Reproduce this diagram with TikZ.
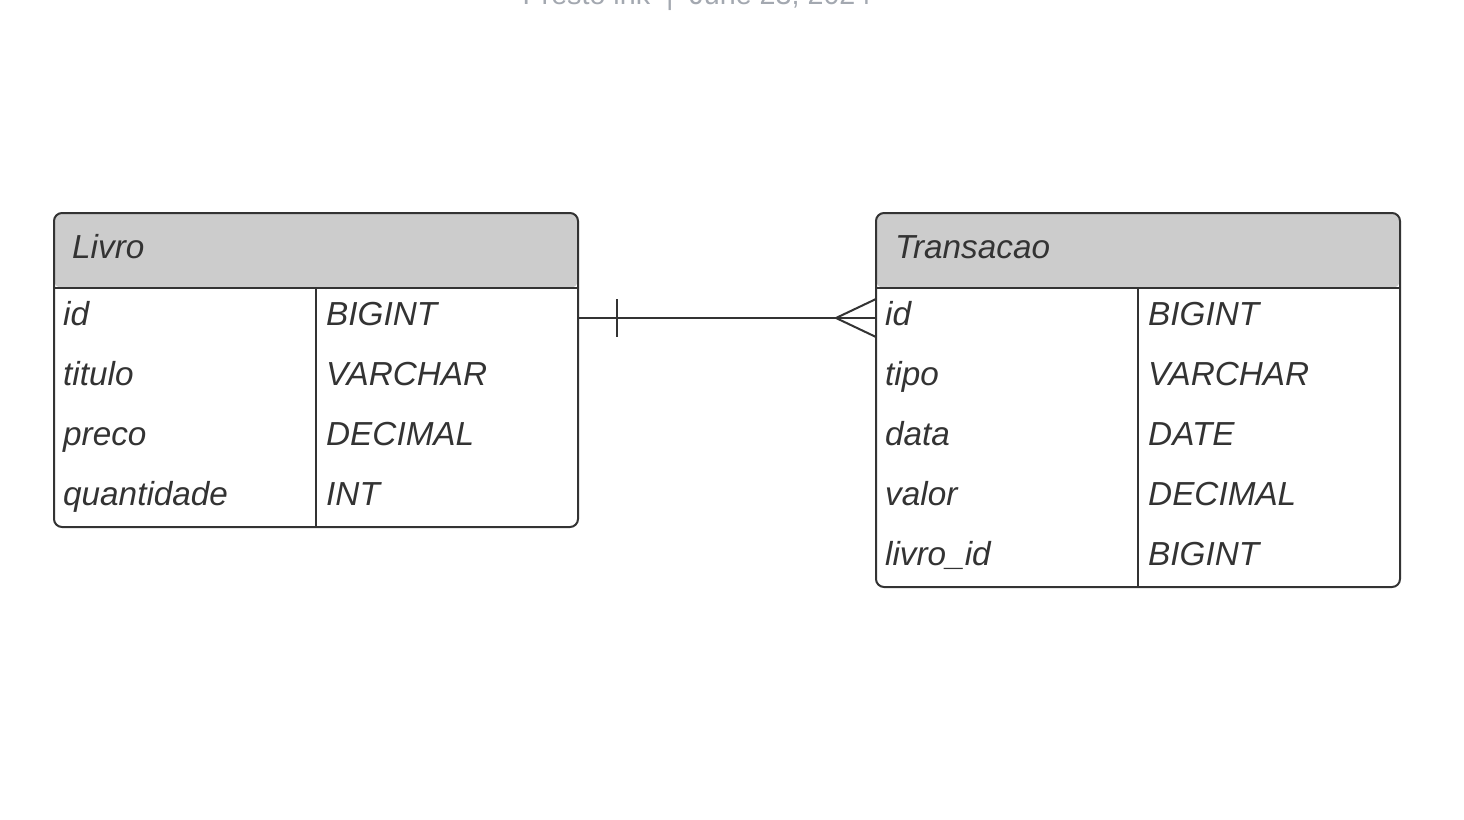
\documentclass[tikz,border=0pt]{standalone}
\usepackage{fontspec}
\setmainfont{Liberation Sans}
\definecolor{ln}{HTML}{333333}
\definecolor{hd}{HTML}{CCCCCC}
\definecolor{tx}{HTML}{333333}
\definecolor{gr}{HTML}{A3A8B0}
\begin{document}
\begin{tikzpicture}[x=1pt,y=-1pt,
  tbl/.style={draw=ln,line width=2pt,rounded corners=8pt},
  cell/.style={anchor=base west,inner sep=0pt,text=tx,font=\fontsize{33.3}{36}\selectfont\itshape},
  conn/.style={draw=ln,line width=2pt}]
\useasboundingbox (0,0) rectangle (1464,819);
\begin{scope}
\clip (0,0) rectangle (1464,819);
\node[anchor=base,text=gr,font=\fontsize{28.7}{30}\selectfont,inner sep=0pt] (stamp) at (697,5) {Presto ink \ | \ June 23, 2024};
\end{scope}
% Livro
\fill[hd,rounded corners=8pt] (54,288) -- (54,213) -- (578,213) -- (578,288) -- cycle;
\draw[tbl] (54,213) rectangle (578,527);
\draw[conn] (54,288) -- (578,288);
\draw[conn] (316,288) -- (316,527);
\node[cell] (lt) at (72,258) {Livro};
\node[cell] (l1) at (63,325) {id};
\node[cell] (l2) at (63,385) {titulo};
\node[cell] (l3) at (63,445) {preco};
\node[cell] (l4) at (63,505) {quantidade};
\node[cell] (l1t) at (326,325) {BIGINT};
\node[cell] (l2t) at (326,385) {VARCHAR};
\node[cell] (l3t) at (326,445) {DECIMAL};
\node[cell] (l4t) at (326,505) {INT};
% Transacao
\fill[hd,rounded corners=8pt] (876,288) -- (876,213) -- (1400,213) -- (1400,288) -- cycle;
\draw[tbl] (876,213) rectangle (1400,587);
\draw[conn] (876,288) -- (1400,288);
\draw[conn] (1138,288) -- (1138,587);
\node[cell] (tt) at (895,258) {Transacao};
\node[cell] (t1) at (885,325) {id};
\node[cell] (t2) at (885,385) {tipo};
\node[cell] (t3) at (885,445) {data};
\node[cell] (t4) at (885,505) {valor};
\node[cell] (t5) at (885,565) {livro\_id};
\node[cell] (t1t) at (1148,325) {BIGINT};
\node[cell] (t2t) at (1148,385) {VARCHAR};
\node[cell] (t3t) at (1148,445) {DATE};
\node[cell] (t4t) at (1148,505) {DECIMAL};
\node[cell] (t5t) at (1148,565) {BIGINT};
% connector
\coordinate (a) at (578,318);
\coordinate (b) at (876,318);
\coordinate (apex) at (836,318);
\draw[conn] (a) -- (b);
\draw[conn] (617,299) -- (617,337);
\draw[conn] (876,299) -- (apex) -- (876,337);
\end{tikzpicture}
\end{document}
